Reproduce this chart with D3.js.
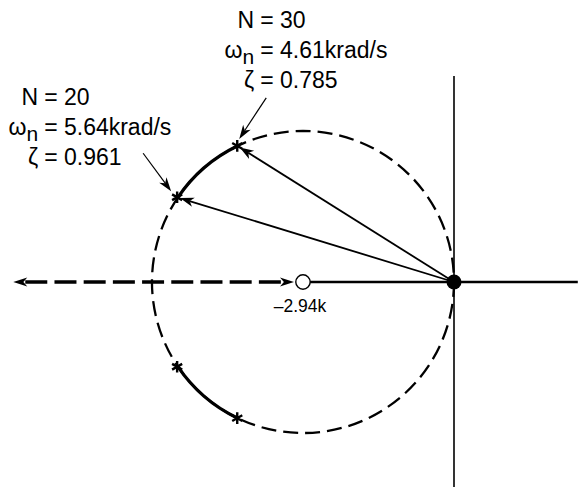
<!DOCTYPE html>
<html>
<head>
<meta charset="utf-8">
<script src="https://cdn.jsdelivr.net/npm/d3@7"></script>
<style>
  body { margin: 0; background: #fff; }
  svg { display: block; }
  text { font-family: "Liberation Sans", Arial, Helvetica, sans-serif; fill: #000; }
</style>
</head>
<body>
<script>
const w = 581;
const h = 487;

// open-loop poles / zeros, krad/s
const poles = [{ re: 0, im: 0 }];          // double pole at origin
const zeros = [{ re: -2.94, im: 0 }];
const zeroLabels = ["\u20132.94k"];

// marked gains on the upper branch (lower branch is the mirror image)
const gains = [20, 30];
const pointRe = [-5.39, -4.22];
const pointIm = [1.65, 2.65];
const omegaN = ["5.64krad/s", "4.61krad/s"];
const zeta = ["0.961", "0.785"];

// how far the axes run
const reExtent = [-8.58, 2.41];
const imExtent = [-4.0, 4.01];

const svg = d3.select("body")
  .append("svg")
  .attr("width", w)
  .attr("height", h);

const x = d3.scaleLinear().domain([-3, 0]).range([299.9, 454]);
const y = d3.scaleLinear().domain([0, 3]).range([282, 127.9]);

const cx = x(zeros[0].re);
const cy = y(0);
const r = x(0) - cx;
const ox = x(poles[0].re);
const oy = y(poles[0].im);

const arrowHead = (tip, from, len, half) => {
  const a = Math.atan2(tip[1] - from[1], tip[0] - from[0]);
  const c = Math.cos(a), s = Math.sin(a);
  const bx = tip[0] - len * c, by = tip[1] - len * s;
  const nx = tip[0] - len * 0.72 * c, ny = tip[1] - len * 0.72 * s;
  return `M${tip[0]},${tip[1]}L${bx - half * s},${by + half * c}L${nx},${ny}L${bx + half * s},${by - half * c}Z`;
};

// dashed root-locus circle
svg.append("circle")
  .attr("cx", cx).attr("cy", cy).attr("r", r)
  .attr("fill", "none")
  .attr("stroke", "#000")
  .attr("stroke-width", 2.3)
  .attr("stroke-dasharray", "15,7");

// solid arcs between the marked gains
const pts = gains.map((g, i) => [x(pointRe[i]), y(pointIm[i])]);
const angles = pts.map(p => Math.atan2(p[1] - cy, p[0] - cx));
[1, -1].forEach(sgn => {
  const a0 = Math.min(angles[0] * sgn, angles[1] * sgn);
  const a1 = Math.max(angles[0] * sgn, angles[1] * sgn);
  const p = d3.path();
  p.arc(cx, cy, r, a0, a1, false);
  svg.append("path")
    .attr("d", p.toString())
    .attr("fill", "none")
    .attr("stroke", "#000")
    .attr("stroke-width", 3.2);
});

// axes
svg.append("line")
  .attr("x1", x(0)).attr("x2", x(0))
  .attr("y1", y(imExtent[1])).attr("y2", y(imExtent[0]))
  .attr("stroke", "#000").attr("stroke-width", 1.6);

svg.append("line")
  .attr("x1", cx).attr("x2", x(reExtent[1]))
  .attr("y1", cy).attr("y2", cy)
  .attr("stroke", "#000").attr("stroke-width", 2.6);

// real-axis branch, dashed with arrows both ends
const leftTip = [x(reExtent[0]), cy];
const rightTip = [cx - 9, cy];
svg.append("line")
  .attr("x1", leftTip[0] + 12).attr("x2", rightTip[0] - 10)
  .attr("y1", cy).attr("y2", cy)
  .attr("stroke", "#000")
  .attr("stroke-width", 3.6)
  .attr("stroke-dasharray", "22,7.2");
svg.append("path").attr("d", arrowHead(leftTip, [cx, cy], 14, 4.5));
svg.append("path").attr("d", arrowHead(rightTip, leftTip, 14, 4.5));

// rays from origin to the marked points
pts.forEach(p => {
  const a = Math.atan2(p[1] - oy, p[0] - ox);
  const tip = [p[0] - 3 * Math.cos(a), p[1] - 3 * Math.sin(a)];
  svg.append("line")
    .attr("x1", ox).attr("y1", oy)
    .attr("x2", tip[0] - 10 * Math.cos(a)).attr("y2", tip[1] - 10 * Math.sin(a))
    .attr("stroke", "#000").attr("stroke-width", 1.8);
  svg.append("path").attr("d", arrowHead(tip, [ox, oy], 14, 4.8));
});

// asterisks at the marked gains, both halves
const star = d3.symbol().type(d3.symbolAsterisk).size(95);
const starPts = pts.concat(pts.map(p => [p[0], 2 * cy - p[1]]));
svg.selectAll("path.star")
  .data(starPts)
  .enter()
  .append("path")
  .attr("class", "star")
  .attr("d", star)
  .attr("transform", d => `translate(${d[0]},${d[1]})`)
  .attr("fill", "none")
  .attr("stroke", "#000")
  .attr("stroke-width", 2.4);

// pole and zero
svg.selectAll("circle.pole")
  .data(poles)
  .enter()
  .append("circle")
  .attr("class", "pole")
  .attr("cx", d => x(d.re)).attr("cy", d => y(d.im))
  .attr("r", 7.5)
  .attr("fill", "#000");

svg.selectAll("circle.zero")
  .data(zeros)
  .enter()
  .append("circle")
  .attr("class", "zero")
  .attr("cx", d => x(d.re)).attr("cy", d => y(d.im))
  .attr("r", 7.2)
  .attr("fill", "#fff")
  .attr("stroke", "#000")
  .attr("stroke-width", 1.4);

svg.selectAll("text.zlabel")
  .data(zeros)
  .enter()
  .append("text")
  .attr("class", "zlabel")
  .attr("x", d => x(d.re) - 3)
  .attr("y", d => y(d.im) + 30)
  .attr("text-anchor", "middle")
  .attr("font-size", 17.5)
  .text((d, i) => zeroLabels[i]);

// annotations: '=' column and pointer arrow, offsets from the marked point
const notes = [
  { eq: [-133, -92], from: [-34, -44], to: [-6, -6] },
  { eq: [23, -118], from: [29, -48], to: [2, -7] },
];

gains.forEach((g, i) => {
  const p = pts[i];
  const n = notes[i];
  const ex = p[0] + n.eq[0];
  const by = p[1] + n.eq[1];
  const rows = [
    { left: [["N", 0, 23]], right: `= ${g}` },
    { left: [["\u03c9", 0, 23], ["n", 6, 21]], right: `= ${omegaN[i]}` },
    { left: [["\u03b6", 0, 23]], right: `= ${zeta[i]}` },
  ];
  rows.forEach((row, k) => {
    const ty = by + k * 30;
    const lt = svg.append("text")
      .attr("x", ex - 6).attr("y", ty)
      .attr("text-anchor", "end")
      .attr("font-size", 23);
    let shift = 0;
    row.left.forEach(([s, dy, fs]) => {
      lt.append("tspan")
        .attr("dy", dy - shift)
        .attr("font-size", fs)
        .text(s);
      shift = dy;
    });
    svg.append("text")
      .attr("x", ex).attr("y", ty)
      .attr("font-size", 23)
      .text(row.right);
  });

  const from = [p[0] + n.from[0], p[1] + n.from[1]];
  const tip = [p[0] + n.to[0], p[1] + n.to[1]];
  const a = Math.atan2(tip[1] - from[1], tip[0] - from[0]);
  svg.append("line")
    .attr("x1", from[0]).attr("y1", from[1])
    .attr("x2", tip[0] - 10 * Math.cos(a)).attr("y2", tip[1] - 10 * Math.sin(a))
    .attr("stroke", "#000").attr("stroke-width", 1.2);
  svg.append("path").attr("d", arrowHead(tip, from, 14, 4.5));
});
</script>
</body>
</html>
